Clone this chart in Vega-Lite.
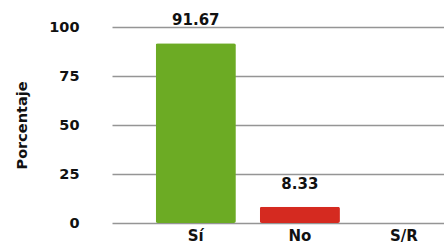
{
  "$schema": "https://vega.github.io/schema/vega-lite/v6.json",
  "autosize": "none",
  "width": 332,
  "height": 196,
  "padding": {"left": 112, "top": 27, "right": 0, "bottom": 29},
  "background": "white",
  "config": {
    "view": {"stroke": null},
    "font": "DejaVu Sans"
  },
  "data": {
    "values": [
      {"respuesta": "Sí", "porcentaje": 91.67},
      {"respuesta": "No", "porcentaje": 8.33},
      {"respuesta": "S/R", "porcentaje": 0}
    ]
  },
  "encoding": {
    "x": {
      "field": "respuesta",
      "type": "nominal",
      "sort": null,
      "scale": {"paddingInner": 0.23, "paddingOuter": 0.21, "align": 1},
      "axis": {
        "title": null,
        "labelAngle": 0,
        "labelFont": "DejaVu Sans",
        "labelFontSize": 15,
        "labelFontWeight": "bold",
        "labelColor": "#111",
        "labelPadding": 5,
        "domain": false,
        "ticks": false
      }
    },
    "y": {
      "field": "porcentaje",
      "type": "quantitative",
      "scale": {"domain": [0, 100]},
      "axis": {
        "title": "Porcentaje",
        "titleFont": "DejaVu Sans",
        "titleFontSize": 14.5,
        "titleFontWeight": "bold",
        "titleColor": "#111",
        "titlePadding": 19,
        "values": [0, 25, 50, 75, 100],
        "labelFont": "DejaVu Sans",
        "labelFontSize": 14.5,
        "labelFontWeight": "bold",
        "labelColor": "#111",
        "labelPadding": 33,
        "domain": false,
        "ticks": false,
        "gridColor": "#959595",
        "gridWidth": 1.6
      }
    }
  },
  "layer": [
    {
      "mark": {"type": "bar", "cornerRadius": 2},
      "encoding": {
        "color": {
          "field": "respuesta",
          "type": "nominal",
          "scale": {"domain": ["Sí", "No", "S/R"], "range": ["#6cab24", "#d52a20", "#888888"]},
          "legend": null
        }
      }
    },
    {
      "mark": {"type": "text", "baseline": "alphabetic", "dy": -18, "fontSize": 15, "fontWeight": "bold", "font": "DejaVu Sans", "color": "#111"},
      "transform": [{"filter": "datum.porcentaje > 0"}],
      "encoding": {
        "text": {"field": "porcentaje", "type": "quantitative", "format": ".2f"}
      }
    }
  ]
}
